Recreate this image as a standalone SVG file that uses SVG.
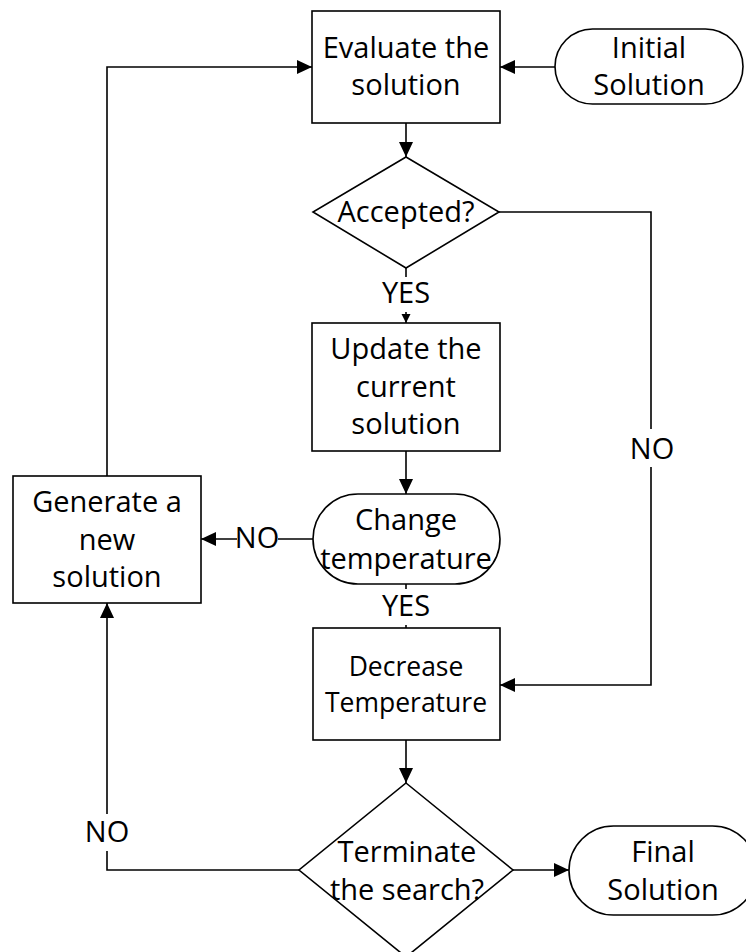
<svg xmlns="http://www.w3.org/2000/svg" width="746" height="952" viewBox="0 0 746 952">
<style>
.n{fill:#fff;stroke:#000;stroke-width:1.6}
.t{font-family:"Open Sans","Noto Sans","DejaVu Sans",sans-serif;font-size:29px;fill:#000;text-anchor:middle}
.s{font-size:26.5px}
.c{fill:none;stroke:#000;stroke-width:1.6}
.bg{fill:#fff}
</style>
<defs>
<marker id="a" markerUnits="userSpaceOnUse" markerWidth="16" markerHeight="14" refX="15" refY="7" orient="auto"><path d="M0,0L15,7L0,14z" fill="#000"/></marker>
<marker id="as" markerUnits="userSpaceOnUse" markerWidth="10" markerHeight="10" refX="9" refY="4.5" orient="auto"><path d="M0,0L9,4.5L0,9z" fill="#000"/></marker>
</defs>
<rect width="746" height="952" fill="#fff"/>
<g id="connectors">
<path class="c" d="M555,67H500" marker-end="url(#a)"/>
<path class="c" d="M406,123V157" marker-end="url(#a)"/>
<path class="c" d="M406,268V323" marker-end="url(#as)"/>
<path class="c" d="M499,212H651V685H500" marker-end="url(#a)"/>
<path class="c" d="M406,451V494" marker-end="url(#a)"/>
<path class="c" d="M313,539H201" marker-end="url(#a)"/>
<path class="c" d="M406,584V628"/>
<path class="c" d="M107,476V67H312" marker-end="url(#a)"/>
<path class="c" d="M406,740V783" marker-end="url(#a)"/>
<path class="c" d="M513,870H569" marker-end="url(#a)"/>
<path class="c" d="M299,870H107V603" marker-end="url(#a)"/>
<rect class="bg" x="382" y="277" width="48" height="35"/>
<text class="t" x="406" y="303">YES</text>
<rect class="bg" x="633" y="429" width="38" height="38"/>
<text class="t" x="652" y="459">NO</text>
<rect class="bg" x="237" y="522" width="41" height="34"/>
<text class="t" x="257" y="548">NO</text>
<rect class="bg" x="382" y="589" width="48" height="36"/>
<text class="t" x="406" y="616">YES</text>
<rect class="bg" x="87" y="814" width="40" height="37"/>
<text class="t" x="107" y="842">NO</text>
</g>
<g id="evaluate">
<rect class="n" x="312" y="11" width="188" height="112"/>
<text class="t" x="406" y="58">Evaluate the</text>
<text class="t" x="406" y="95">solution</text>
</g>
<g id="initial">
<rect class="n" x="555" y="29" width="188" height="75" rx="37.5"/>
<text class="t" x="649" y="58">Initial</text>
<text class="t" x="649" y="95">Solution</text>
</g>
<g id="accepted">
<path class="n" d="M406,157L499,212L406,268L313,212z"/>
<text class="t" x="406" y="222">Accepted?</text>
</g>
<g id="update">
<rect class="n" x="312" y="323" width="188" height="128"/>
<text class="t" x="406" y="359">Update the</text>
<text class="t" x="406" y="397">current</text>
<text class="t" x="406" y="434">solution</text>
</g>
<g id="change">
<rect class="n" x="313" y="494" width="187" height="90" rx="45"/>
<text class="t" x="406" y="530">Change</text>
<text class="t" x="406" y="569">temperature</text>
</g>
<g id="generate">
<rect class="n" x="13" y="476" width="188" height="127"/>
<text class="t" x="107" y="512">Generate a</text>
<text class="t" x="107" y="550">new</text>
<text class="t" x="107" y="587">solution</text>
</g>
<g id="decrease">
<rect class="n" x="313" y="628" width="187" height="112"/>
<text class="t s" x="406" y="676">Decrease</text>
<text class="t s" x="406" y="712">Temperature</text>
</g>
<g id="terminate">
<path class="n" d="M406,783L513,870L406,957L299,870z"/>
<text class="t" x="407" y="862">Terminate</text>
<text class="t" x="407" y="900">the search?</text>
</g>
<g id="final">
<rect class="n" x="569" y="826" width="188" height="89" rx="44.5"/>
<text class="t" x="663" y="862">Final</text>
<text class="t" x="663" y="900">Solution</text>
</g>
</svg>
